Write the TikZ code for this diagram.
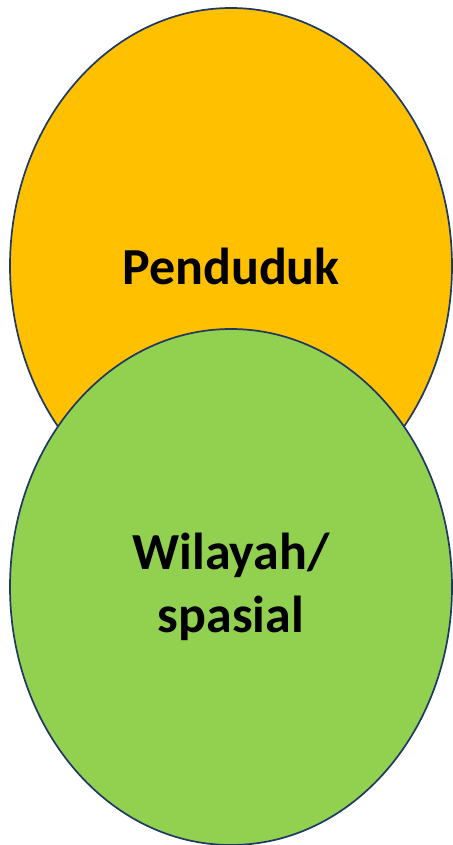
\documentclass[tikz,border=0pt]{standalone}
\usepackage{fontspec}
\setmainfont{Carlito}
\usetikzlibrary{shapes.geometric}
\definecolor{oranye}{HTML}{FFC000}
\definecolor{hijau}{HTML}{92D050}
\definecolor{garis}{HTML}{1F3864}
\tikzset{
  lingkaran/.style={ellipse, draw=garis, line width=1.7pt, inner sep=0pt,
    minimum width=442pt, minimum height=516pt},
  teks/.style={font=\fontsize{52}{63}\selectfont\bfseries, align=center, text=black}
}
\begin{document}
\begin{tikzpicture}[x=1pt,y=1pt]
\useasboundingbox (0,0) rectangle (452,-845);
\node[lingkaran, fill=oranye] (Pen) at (231,-266) {};
\node[lingkaran, fill=hijau] (Wil) at (231,-587) {};

\node[teks] (LPen) at (Pen) {Penduduk};
\node[teks] (LWil) at (Wil) {Wilayah/\\spasial};
\end{tikzpicture}
\end{document}
